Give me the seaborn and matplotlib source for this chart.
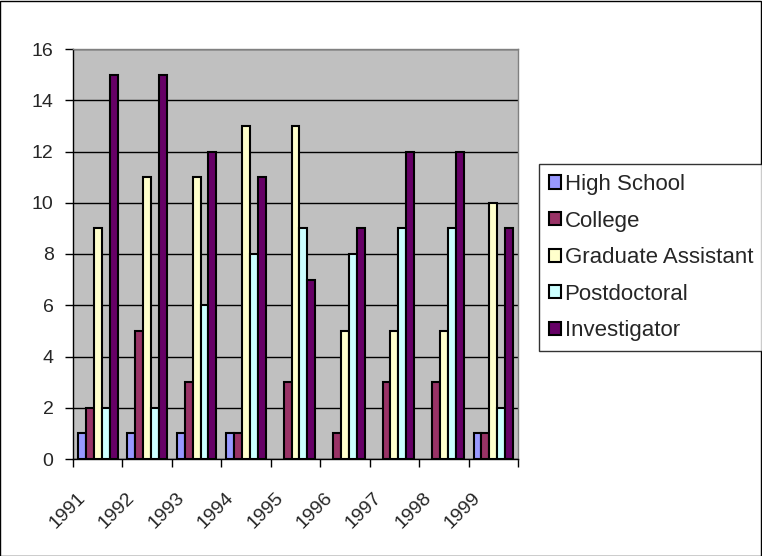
import matplotlib
matplotlib.use("Agg")
import matplotlib.pyplot as plt
import matplotlib.transforms as mtransforms
import pandas as pd
import seaborn as sns
from matplotlib.patches import Rectangle

years = ["1991", "1992", "1993", "1994", "1995", "1996", "1997", "1998", "1999"]
levels = ["High School", "College", "Graduate Assistant", "Postdoctoral", "Investigator"]
high_school = [1, 1, 1, 1, 0, 0, 0, 0, 1]
college = [2, 5, 3, 1, 3, 1, 3, 3, 1]
grad_assistant = [9, 11, 11, 13, 13, 5, 5, 5, 10]
postdoctoral = [2, 2, 6, 8, 9, 8, 9, 9, 2]
investigator = [15, 15, 12, 11, 7, 9, 12, 12, 9]
colors = ["#9999FF", "#993366", "#FFFFCC", "#CCFFFF", "#660066"]

series = [high_school, college, grad_assistant, postdoctoral, investigator]
rows = []
for level, values in zip(levels, series):
    for year, v in zip(years, values):
        rows.append({"year": year, "count": v, "level": level})
df = pd.DataFrame(rows)

sns.set_style("white")
plt.rcParams["font.family"] = ["Liberation Sans", "DejaVu Sans"]

fig = plt.figure(figsize=(7.62, 5.56), dpi=100)
ax = fig.add_axes([73 / 762, 1 - 459 / 556, (518 - 73) / 762, (459 - 49) / 556])
ax.set_facecolor("#C0C0C0")

sns.barplot(data=df, x="year", y="count", hue="level", hue_order=levels,
            palette=colors, edgecolor="black", linewidth=1.5, width=0.8,
            saturation=1, ax=ax)

# Excel does not draw empty bars
for cont in ax.containers:
    for p in cont:
        if p.get_height() == 0:
            p.set_visible(False)

ax.set_ylim(0, 16)
ax.set_xlim(-0.5, 8.5)
ax.set_yticks(range(0, 17, 2))
ax.yaxis.grid(True, color="black", linewidth=1)
ax.set_axisbelow(True)
ax.set_xlabel("")
ax.set_ylabel("")

ax.tick_params(axis="y", labelsize=14, length=6, width=1, color="black",
               left=True, direction="out", pad=8)
ax.set_xticks(range(len(years)))
ax.set_xticklabels(years, rotation=45, ha="right", va="center",
                   rotation_mode="anchor", fontsize=14)
ax.tick_params(axis="x", which="major", length=0, pad=26)
offset = mtransforms.ScaledTranslation(-0.15, 0, fig.dpi_scale_trans)
for lbl in ax.get_xticklabels():
    lbl.set_transform(lbl.get_transform() + offset)
ax.set_xticks([i - 0.5 for i in range(len(years) + 1)], minor=True)
ax.tick_params(axis="x", which="minor", length=6, width=1, color="black",
               bottom=True, direction="out")

for side in ["left", "bottom"]:
    ax.spines[side].set_color("black")
    ax.spines[side].set_linewidth(1)
for side in ["top", "right"]:
    ax.spines[side].set_color("#808080")
    ax.spines[side].set_linewidth(1)

handles, labels = ax.get_legend_handles_labels()
ax.get_legend().remove()
leg = fig.legend(handles, labels, loc="upper left",
                 bbox_to_anchor=(539 / 762, 1 - 164 / 556),
                 fontsize=16, frameon=True, fancybox=False, edgecolor="black",
                 handlelength=0.55, handleheight=0.55, handletextpad=0.15,
                 labelspacing=0.7, borderpad=0.45, borderaxespad=0)
leg.get_frame().set_linewidth(1)
for h in leg.legend_handles:
    h.set_edgecolor("black")
    h.set_linewidth(1.5)

fig.patches.append(Rectangle((0.0005, 0.0005), 0.998, 0.998, transform=fig.transFigure,
                             fill=False, edgecolor="black", linewidth=1))

fig.savefig("out.png", dpi=100)
